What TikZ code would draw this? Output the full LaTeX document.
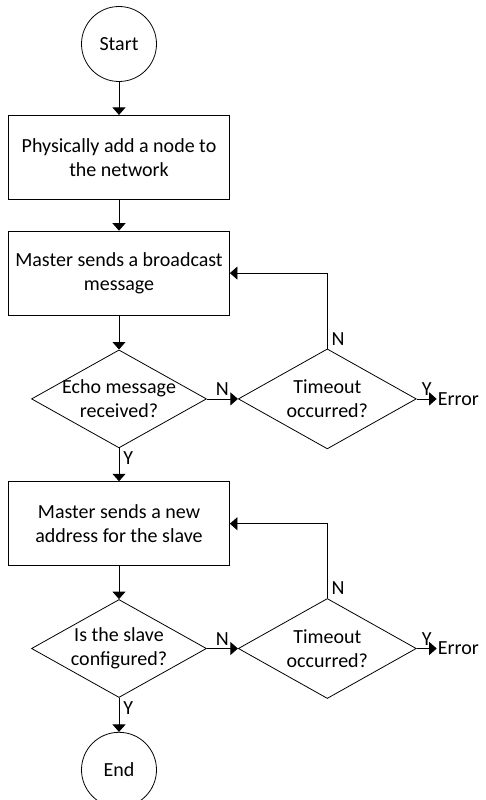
\documentclass[tikz,border=0pt]{standalone}
\usepackage{fontspec}
\setmainfont{Carlito}
\usepackage{tikz}
\usetikzlibrary{arrows.meta,positioning,shapes.geometric}
\tikzset{
  terminal/.style={circle,draw=black,line width=0.8pt,minimum size=75pt,inner sep=0pt},
  process/.style={draw=black,line width=0.8pt,minimum width=221pt,minimum height=84pt,align=center,inner sep=2pt},
  decision/.style={diamond,draw=black,line width=0.8pt,aspect=1.786,inner sep=-4pt,minimum width=175pt,minimum height=98pt,align=center},
  timeout/.style={decision,minimum width=178pt,minimum height=100pt},
  arr/.style={-{Triangle[length=7.5pt,width=13pt]},draw=black,line width=0.8pt},
  yn/.style={inner xsep=4pt,inner ysep=3pt}
}

\begin{document}
\begin{tikzpicture}[node distance=33pt,font=\fontsize{20}{24}\selectfont]
  \useasboundingbox (0,0) rectangle (485pt,-800pt);
  % main column
  \node[terminal] (start) at (119pt,-44pt) {Start};
  \node[process,below=of start] (add) {Physically add a node to\\the network};
  \node[process,below=31pt of add] (bcast) {Master sends a broadcast\\message};
  \node[decision,below=34pt of bcast] (echo) {Echo message\\received?};
  \node[process,below=of echo] (addr) {Master sends a new\\address for the slave};
  \node[decision,below=of addr] (cfg) {Is the slave\\configured?};
  \node[terminal,below=34pt of cfg] (finish) {End};
  % timeout checks
  \node[timeout,right=31pt of echo] (tout1) {Timeout\\occurred?};
  \node[timeout,right=31pt of cfg] (tout2) {Timeout\\occurred?};
  \node[right=20pt of tout1,inner sep=1pt] (err1) {Error};
  \node[right=20pt of tout2,inner sep=1pt] (err2) {Error};

  \draw[arr] (start) -- (add);
  \draw[arr] (add) -- (bcast);
  \draw[arr] (bcast) -- (echo);
  \draw[arr] (echo.south) node[yn,anchor=north west] {Y} -- (addr.north);
  \draw[arr] (addr) -- (cfg);
  \draw[arr] (cfg.south) node[yn,anchor=north west] {Y} -- (finish.north);
  \draw[arr] (echo.east) -- node[yn,above] {N} (tout1.west);
  \draw[arr] (cfg.east) -- node[yn,above] {N} (tout2.west);
  \draw[arr] (tout1.east) -- node[yn,above] {Y} (err1.west);
  \draw[arr] (tout2.east) -- node[yn,above] {Y} (err2.west);
  \draw[arr] (tout1.north) node[yn,anchor=south west] {N} |- (bcast.east);
  \draw[arr] (tout2.north) node[yn,anchor=south west] {N} |- (addr.east);
\end{tikzpicture}
\end{document}
